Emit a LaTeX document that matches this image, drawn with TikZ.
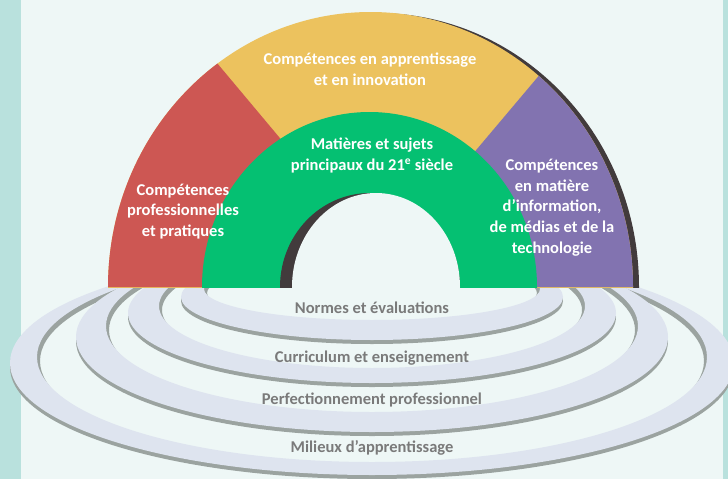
\documentclass[tikz,border=0pt]{standalone}
\usepackage{fontspec}
\setmainfont{Carlito}
\definecolor{bgmint}{RGB}{238,247,246}
\definecolor{stripteal}{RGB}{185,225,221}
\definecolor{archred}{RGB}{205,87,83}
\definecolor{archyellow}{RGB}{236,194,94}
\definecolor{archpurple}{RGB}{130,115,176}
\definecolor{archgreen}{RGB}{5,192,114}
\definecolor{archshadow}{RGB}{66,59,60}
\definecolor{ringblue}{RGB}{222,228,239}
\definecolor{ringshade}{RGB}{155,163,160}
\definecolor{labelgray}{RGB}{122,122,122}

\begin{document}
\begin{tikzpicture}[x=1pt, y=-1pt,
    archlabel/.style={text=white, font=\fontsize{16.5}{20.8}\selectfont\bfseries, align=center, inner sep=0pt},
    ringlabel/.style={text=labelgray, font=\fontsize{16.5}{18}\selectfont\bfseries, inner sep=0pt},
    band/.style={fill=ringblue, even odd rule},
    bandshadow/.style={fill=ringshade, even odd rule}]
    \useasboundingbox (0,0) rectangle (728,479);
    \clip (0,0) rectangle (728,479);

    % background and side strips
    \fill[bgmint] (0,0) rectangle (728,479);
    \fill[stripteal] (0,0) rectangle (21,479);
    \fill[stripteal] (723,0) rectangle (728,479);

    % rings, outermost first (shadow = band moved down)
    \fill[bandshadow] (372,367) ellipse [x radius=362, y radius=112] (372,361) ellipse [x radius=332, y radius=105];
    \fill[band] (372,363) ellipse [x radius=362, y radius=112] (372,357) ellipse [x radius=335, y radius=105];
    \fill[bandshadow] (372,341) ellipse [x radius=296, y radius=95] (372,330) ellipse [x radius=263, y radius=86];
    \fill[band] (372,337) ellipse [x radius=296, y radius=95] (372,326) ellipse [x radius=266, y radius=86];
    \fill[bandshadow] (372,317) ellipse [x radius=244, y radius=70] (372,310) ellipse [x radius=210, y radius=62];
    \fill[band] (372,313) ellipse [x radius=244, y radius=70] (372,306) ellipse [x radius=213, y radius=62];
    \fill[bandshadow] (372,301) ellipse [x radius=191, y radius=43] (372,293) ellipse [x radius=165, y radius=31];
    \fill[band] (372,297) ellipse [x radius=191, y radius=43] (372,289) ellipse [x radius=168, y radius=31];

    % the arch
    \begin{scope}
    \clip (0,0) rectangle (728,287);
    \fill[archshadow] (377,287) ellipse [x radius=262, y radius=274];
    \fill[archyellow] (370.5,287) ellipse [x radius=262.5, y radius=275];
    \begin{scope}
        \clip (370.5,287) ellipse [x radius=262.5, y radius=275];
        \fill[archred] (186,26) -- (310,174) -- (310,287) -- (0,287) -- (0,26) -- cycle;
        \fill[archpurple] (569,40) -- (445,187) -- (445,287) -- (728,287) -- (728,40) -- cycle;
    \end{scope}
    \fill[archgreen] (369.5,287) ellipse [x radius=167.5, y radius=175];
    \fill[archshadow] (370,287) ellipse [x radius=90, y radius=94];
    \fill[bgmint] (376,287) ellipse [x radius=84, y radius=94];
    \end{scope}

    % arch labels
    \node[archlabel] (innovation) at (370,69.5) {Compétences en apprentissage\\et en innovation};
    \node[archlabel] (matieres) at (372,155.5) {Matières et sujets\\principaux du 21\textsuperscript{e} siècle};
    \node[archlabel] (pratiques) at (183,211.5) {Compétences\\professionnelles\\et pratiques};
    \node[archlabel] (technologie) at (552,207.5) {Compétences\\en matière\\d’information,\\de médias et de la\\technologie};

    % ring labels
    \node[ringlabel] (normes) at (372,308) {Normes et évaluations};
    \node[ringlabel] (curriculum) at (372,358) {Curriculum et enseignement};
    \node[ringlabel] (perfectionnement) at (372,400) {Perfectionnement professionnel};
    \node[ringlabel] (milieux) at (372,448) {Milieux d’apprentissage};
\end{tikzpicture}
\end{document}
